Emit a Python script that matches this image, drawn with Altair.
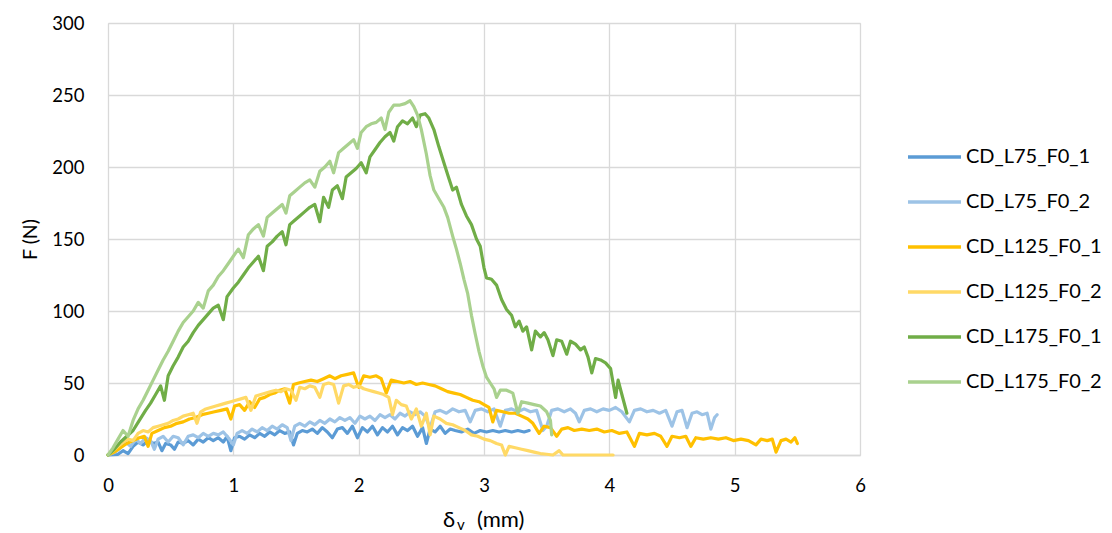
import altair as alt
import pandas as pd

SERIES = ["CD_L75_F0_1", "CD_L75_F0_2", "CD_L125_F0_1", "CD_L125_F0_2", "CD_L175_F0_1", "CD_L175_F0_2"]
COLORS = ["#5B9BD5", "#9DC3E6", "#FFC000", "#FFD966", "#70AD47", "#A9D18E"]
X_TICKS = [0, 1, 2, 3, 4, 5, 6]
Y_TICKS = [0, 50, 100, 150, 200, 250, 300]
X_TITLE = ["δ", "v", "(mm)"]
Y_TITLE = "F (N)"

L75_F0_1 = [(0,0),(0.08,0.5),(0.12,3),(0.16,1),(0.2,6),(0.24,9),(0.28,7),(0.32,10),(0.36,8),(0.4,9),(0.43,3),(0.46,8),(0.5,7),(0.53,4),(0.56,9),(0.6,8),(0.64,10),(0.68,7),(0.72,11),(0.76,9),(0.8,12),(0.84,10),(0.88,12),(0.92,9),(0.95,13),(0.98,3),(1.01,12),(1.05,13),(1.09,11),(1.13,14),(1.17,12),(1.21,15),(1.25,13),(1.29,16),(1.33,14),(1.37,17),(1.41,15),(1.45,16),(1.48,7),(1.51,15),(1.55,17),(1.59,16),(1.63,18),(1.67,15),(1.71,19),(1.75,16),(1.79,12),(1.83,18),(1.87,19),(1.91,15),(1.95,20),(1.99,12),(2.03,19),(2.07,16),(2.11,20),(2.15,14),(2.19,19),(2.23,16),(2.27,20),(2.31,14),(2.35,19),(2.39,17),(2.43,20),(2.47,13),(2.51,19),(2.54,8),(2.57,18),(2.61,16),(2.65,20),(2.69,15),(2.73,18),(2.77,17),(2.82,16),(2.87,18),(2.92,15),(2.97,17),(3.02,16),(3.07,17),(3.12,16),(3.17,17),(3.22,16),(3.27,17),(3.32,16),(3.36,17)]

L75_F0_2 = [(0,0),(0.06,2),(0.1,5),(0.14,9),(0.18,6),(0.22,11),(0.26,8),(0.3,12),(0.34,10),(0.37,4),(0.4,11),(0.44,13),(0.48,9),(0.52,13),(0.56,12),(0.6,7),(0.64,13),(0.68,14),(0.72,12),(0.76,15),(0.8,13),(0.84,15),(0.88,14),(0.92,16),(0.96,12),(1.0,7),(1.03,15),(1.07,17),(1.11,15),(1.15,18),(1.19,16),(1.23,19),(1.27,17),(1.31,20),(1.35,18),(1.39,21),(1.43,19),(1.46,10),(1.49,20),(1.53,22),(1.57,20),(1.61,23),(1.65,21),(1.69,24),(1.73,22),(1.77,25),(1.81,23),(1.85,26),(1.89,24),(1.93,26),(1.97,22),(2.01,27),(2.05,25),(2.09,27),(2.13,24),(2.17,28),(2.21,26),(2.25,28),(2.29,25),(2.33,29),(2.37,27),(2.41,30),(2.45,28),(2.49,30),(2.53,27),(2.57,19),(2.61,30),(2.65,31),(2.7,29),(2.75,32),(2.8,30),(2.85,31),(2.89,23),(2.93,31),(2.98,32),(3.03,30),(3.08,32),(3.13,20),(3.17,31),(3.22,32),(3.27,30),(3.32,32),(3.37,30),(3.42,31),(3.47,17),(3.5,20),(3.54,31),(3.59,32),(3.64,30),(3.69,32),(3.73,29),(3.76,23),(3.8,31),(3.85,32),(3.9,30),(3.95,32),(4.0,31),(4.05,33),(4.1,30),(4.16,23),(4.2,31),(4.25,32),(4.3,30),(4.35,31),(4.4,29),(4.45,31),(4.5,20),(4.54,30),(4.58,31),(4.62,19),(4.66,29),(4.7,30),(4.74,28),(4.78,29),(4.81,18),(4.84,26),(4.86,28)]

L125_F0_1 = [(0,0),(0.05,2),(0.1,5),(0.15,8),(0.2,10),(0.25,12),(0.29,13),(0.32,6),(0.35,15),(0.4,17),(0.45,19),(0.5,20),(0.55,22),(0.6,23),(0.65,25),(0.7,26),(0.75,28),(0.8,29),(0.85,30),(0.9,31),(0.95,32),(0.98,25),(1.01,34),(1.05,35),(1.09,31),(1.13,37),(1.17,33),(1.21,39),(1.25,40),(1.29,42),(1.33,43),(1.37,45),(1.41,46),(1.45,36),(1.48,49),(1.52,50),(1.57,51),(1.62,52),(1.67,51),(1.72,53),(1.77,55),(1.81,53),(1.86,55),(1.91,56),(1.96,57),(2.0,47),(2.04,55),(2.09,54),(2.14,55),(2.18,53),(2.22,43),(2.26,52),(2.31,51),(2.36,50),(2.41,51),(2.46,49),(2.51,50),(2.56,49),(2.61,48),(2.66,46),(2.71,44),(2.76,43),(2.81,42),(2.86,40),(2.91,38),(2.96,37),(3.0,35),(3.04,33),(3.07,23),(3.1,31),(3.15,30),(3.2,29),(3.25,29),(3.3,27),(3.35,25),(3.39,22),(3.44,15),(3.48,20),(3.53,19),(3.58,13),(3.62,18),(3.67,19),(3.72,17),(3.78,18),(3.84,17),(3.9,18),(3.96,16),(4.02,17),(4.08,15),(4.14,16),(4.2,6),(4.24,15),(4.3,14),(4.36,15),(4.41,13),(4.46,6),(4.5,13),(4.56,12),(4.61,13),(4.65,6),(4.69,12),(4.75,11),(4.81,12),(4.87,11),(4.93,12),(4.99,10),(5.05,11),(5.11,10),(5.17,7),(5.21,11),(5.26,10),(5.3,11),(5.33,2),(5.37,10),(5.41,11),(5.45,9),(5.48,12),(5.5,8)]

L125_F0_2 = [(0,0),(0.04,3),(0.08,6),(0.12,9),(0.16,11),(0.2,10),(0.24,15),(0.28,17),(0.32,16),(0.36,19),(0.4,20),(0.44,21),(0.48,22),(0.52,24),(0.56,25),(0.6,27),(0.64,28),(0.68,29),(0.71,22),(0.74,30),(0.78,32),(0.82,33),(0.86,34),(0.9,35),(0.94,36),(0.98,37),(1.02,38),(1.06,39),(1.1,40),(1.14,31),(1.18,41),(1.22,42),(1.26,43),(1.3,44),(1.34,45),(1.38,44),(1.42,46),(1.46,45),(1.5,38),(1.53,47),(1.57,46),(1.61,48),(1.65,47),(1.69,40),(1.72,49),(1.76,50),(1.8,49),(1.84,36),(1.88,48),(1.92,49),(1.96,47),(2.0,48),(2.04,46),(2.08,45),(2.12,44),(2.16,43),(2.2,42),(2.24,40),(2.27,28),(2.3,38),(2.34,35),(2.38,34),(2.42,25),(2.46,32),(2.5,20),(2.54,29),(2.57,14),(2.6,27),(2.65,25),(2.7,22),(2.75,21),(2.8,19),(2.85,17),(2.9,14),(2.95,13),(3.0,11),(3.05,10),(3.1,8),(3.14,7),(3.17,0),(3.2,6),(3.25,5),(3.3,4),(3.35,3),(3.4,2),(3.45,1),(3.5,0.5),(3.55,0),(3.6,3),(3.63,0),(3.8,0),(4.03,0)]

L175_F0_1 = [(0,0),(0.05,4),(0.1,9),(0.15,13),(0.2,17),(0.25,24),(0.3,31),(0.34,36),(0.38,42),(0.42,48),(0.45,38),(0.48,55),(0.52,62),(0.56,68),(0.6,75),(0.64,79),(0.68,85),(0.72,90),(0.76,94),(0.8,98),(0.84,102),(0.88,104),(0.92,94),(0.95,110),(1.0,116),(1.04,120),(1.08,125),(1.12,130),(1.16,134),(1.2,138),(1.24,128),(1.27,145),(1.31,148),(1.35,152),(1.39,155),(1.42,146),(1.45,160),(1.49,163),(1.53,166),(1.57,169),(1.61,172),(1.65,174),(1.69,162),(1.72,179),(1.76,172),(1.79,184),(1.83,187),(1.87,178),(1.9,193),(1.94,196),(1.98,199),(2.02,203),(2.06,196),(2.09,207),(2.13,212),(2.17,217),(2.21,221),(2.25,224),(2.28,218),(2.31,228),(2.35,232),(2.39,230),(2.43,234),(2.46,228),(2.49,236),(2.53,237),(2.56,234),(2.6,226),(2.64,214),(2.68,203),(2.72,192),(2.75,184),(2.78,186),(2.82,174),(2.86,166),(2.9,160),(2.94,150),(2.97,145),(3.0,130),(3.02,123),(3.06,122),(3.1,118),(3.14,108),(3.18,101),(3.22,97),(3.25,89),(3.28,93),(3.31,86),(3.34,89),(3.38,73),(3.41,86),(3.45,82),(3.48,85),(3.51,80),(3.55,69),(3.58,80),(3.62,79),(3.66,70),(3.69,79),(3.73,77),(3.77,73),(3.8,75),(3.83,68),(3.86,57),(3.89,67),(3.93,66),(3.97,64),(4.01,60),(4.05,40),(4.07,52),(4.1,42),(4.14,29)]

L175_F0_2 = [(0,0),(0.04,5),(0.08,11),(0.12,17),(0.16,13),(0.2,24),(0.24,32),(0.28,38),(0.32,45),(0.36,52),(0.4,59),(0.44,66),(0.48,72),(0.52,79),(0.56,86),(0.6,92),(0.64,96),(0.68,100),(0.72,106),(0.76,102),(0.8,114),(0.84,118),(0.88,124),(0.92,128),(0.96,133),(1.0,138),(1.04,143),(1.08,137),(1.12,153),(1.16,157),(1.2,160),(1.24,152),(1.27,165),(1.31,168),(1.35,171),(1.39,174),(1.42,168),(1.45,180),(1.49,183),(1.53,186),(1.57,189),(1.61,191),(1.65,186),(1.69,197),(1.73,200),(1.77,204),(1.8,196),(1.84,210),(1.88,213),(1.92,216),(1.96,219),(1.99,213),(2.02,224),(2.06,228),(2.1,230),(2.14,231),(2.18,234),(2.21,226),(2.24,238),(2.28,243),(2.33,243),(2.37,244),(2.41,246),(2.44,242),(2.47,236),(2.5,226),(2.54,209),(2.57,194),(2.6,184),(2.64,178),(2.68,172),(2.71,165),(2.75,152),(2.78,143),(2.81,133),(2.84,122),(2.87,112),(2.9,97),(2.93,84),(2.96,72),(2.99,62),(3.02,54),(3.05,50),(3.08,46),(3.1,40),(3.13,45),(3.18,45),(3.23,43),(3.27,29),(3.3,37),(3.35,36),(3.4,35),(3.45,34),(3.5,30),(3.53,24),(3.54,14)]

ALL = [L75_F0_1, L75_F0_2, L125_F0_1, L125_F0_2, L175_F0_1, L175_F0_2]

rows = []
for si, (name, pts) in enumerate(zip(SERIES, ALL)):
    for i, (x, f) in enumerate(pts):
        rows.append({"series": name, "x": x, "F": f, "i": i})
df = pd.DataFrame(rows)

FONT = "Lato"
W, H = 752, 432

lines = alt.Chart(df).mark_line(strokeWidth=3.2, strokeJoin="round", strokeCap="round").encode(
    x=alt.X("x:Q", scale=alt.Scale(domain=[0, 6], nice=False),
            axis=alt.Axis(title=None, values=X_TICKS, format="d",
                          grid=True, gridColor="#D9D9D9", gridWidth=1.3,
                          domain=True, domainColor="#D9D9D9", domainWidth=1.3,
                          ticks=False, labelPadding=21, labelFontSize=18.5, labelColor="#000000",
                          labelFont=FONT, labelFlush=False)),
    y=alt.Y("F:Q", scale=alt.Scale(domain=[0, 300], nice=False),
            axis=alt.Axis(title=Y_TITLE, values=Y_TICKS,
                          grid=True, gridColor="#D9D9D9", gridWidth=1.3,
                          domain=False, ticks=False, labelPadding=24, labelFontSize=18.5,
                          labelColor="#000000", labelFont=FONT, titleFont=FONT, titleFontSize=19.5,
                          titleFontWeight="normal", titleColor="#000000",
                          titleX=-78, titleY=216, titleBaseline="middle", titleAlign="center",
                          labelFlush=False)),
    color=alt.Color("series:N", scale=alt.Scale(domain=SERIES, range=COLORS),
                    legend=alt.Legend(title=None, orient="none", legendX=798, legendY=123,
                                      symbolType="stroke", symbolSize=2809, symbolStrokeWidth=3.5,
                                      clipHeight=22, rowPadding=23, labelFontSize=20, labelFont=FONT,
                                      labelColor="#000000", labelOffset=3, padding=0,
                                      labelLimit=200)),
    order=alt.Order("i:Q"),
    detail="series:N",
)

tdf = pd.DataFrame({"t": X_TITLE})

def title_part(k, xpos, ypos, size):
    return alt.Chart(tdf).transform_filter(alt.datum.t == X_TITLE[k]).mark_text(
        font=FONT, fontSize=size, color="#000000", align="left", baseline="alphabetic"
    ).encode(x=alt.value(xpos), y=alt.value(ypos), text="t:N")

xtitle = title_part(0, 335, 504, 22) + title_part(1, 349, 507, 15) + title_part(2, 369, 504, 22)

chart = alt.layer(lines, xtitle).properties(
    width=W, height=H,
    autosize=alt.AutoSizeParams(type="none"),
    padding={"left": 100, "top": 15, "right": 244, "bottom": 78},
).configure_view(stroke=None).configure(font=FONT)

chart.save("out.html", embed_options={"renderer": "svg", "actions": False})
